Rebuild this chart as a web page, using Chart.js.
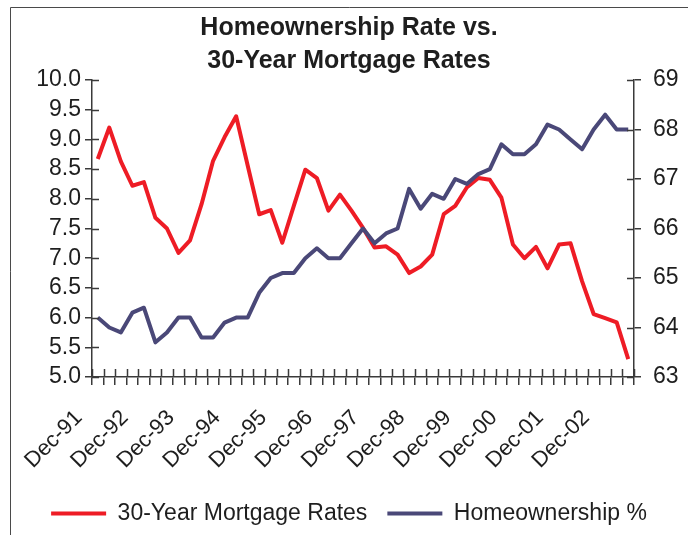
<!DOCTYPE html>
<html>
<head>
<meta charset="utf-8">
<title>Homeownership Rate vs. 30-Year Mortgage Rates</title>
<script src="https://cdn.jsdelivr.net/npm/chart.js@4/dist/chart.umd.min.js"></script>
<style>
  html, body { margin: 0; padding: 0; background: #ffffff; }
  #wrap { width: 688px; height: 535px; }
</style>
</head>
<body>
<div id="wrap"><canvas id="chart" width="688" height="535"></canvas></div>
<script>
// Quarterly periods, Dec-91 through Jun-03
const quarters = [
  'Dec-91', 'Mar-92', 'Jun-92', 'Sep-92', 'Dec-92', 'Mar-93', 'Jun-93', 'Sep-93',
  'Dec-93', 'Mar-94', 'Jun-94', 'Sep-94', 'Dec-94', 'Mar-95', 'Jun-95', 'Sep-95',
  'Dec-95', 'Mar-96', 'Jun-96', 'Sep-96', 'Dec-96', 'Mar-97', 'Jun-97', 'Sep-97',
  'Dec-97', 'Mar-98', 'Jun-98', 'Sep-98', 'Dec-98', 'Mar-99', 'Jun-99', 'Sep-99',
  'Dec-99', 'Mar-00', 'Jun-00', 'Sep-00', 'Dec-00', 'Mar-01', 'Jun-01', 'Sep-01',
  'Dec-01', 'Mar-02', 'Jun-02', 'Sep-02', 'Dec-02', 'Mar-03', 'Jun-03'
];

// 30-year fixed mortgage rate, percent (left axis)
const mortgageRates = [
  8.67, 9.20, 8.63, 8.22, 8.28, 7.68, 7.50, 7.09, 7.30, 7.91,
  8.64, 9.04, 9.39, 8.56, 7.74, 7.81, 7.26, 7.88, 8.49, 8.35,
  7.80, 8.07, 7.80, 7.51, 7.18, 7.20, 7.06, 6.75, 6.86, 7.06,
  7.74, 7.88, 8.19, 8.35, 8.32, 8.02, 7.23, 7.00, 7.19, 6.83,
  7.23, 7.25, 6.61, 6.06, 5.99, 5.92, 5.30
];

// Homeownership rate, percent (right axis)
const homeownership = [
  64.2, 64.0, 63.9, 64.3, 64.4, 63.7, 63.9, 64.2, 64.2, 63.8,
  63.8, 64.1, 64.2, 64.2, 64.7, 65.0, 65.1, 65.1, 65.4, 65.6,
  65.4, 65.4, 65.7, 66.0, 65.7, 65.9, 66.0, 66.8, 66.4, 66.7,
  66.6, 67.0, 66.9, 67.1, 67.2, 67.7, 67.5, 67.5, 67.7, 68.1,
  68.0, 67.8, 67.6, 68.0, 68.3, 68.0, 68.0
];

// Axis ranges
const rateAxis = { min: 5.0, max: 10.0, step: 0.5 };
const ownAxis = { min: 63, max: 69, step: 1 };

const FONT = "'Liberation Sans', Arial, Helvetica, sans-serif";
const INK = '#1e1e1e';
const AXIS = '#3a3a3a';
const RED = '#ee1c25';
const NAVY = '#4a4878';

// White page with the thin outer frame
const framePlugin = {
  id: 'frame',
  beforeDraw(chart) {
    const ctx = chart.ctx;
    ctx.save();
    ctx.fillStyle = '#ffffff';
    ctx.fillRect(0, 0, chart.width, chart.height);
    ctx.strokeStyle = '#4a4a4a';
    ctx.lineWidth = 1;
    ctx.beginPath();
    ctx.moveTo(10.5, chart.height);
    ctx.lineTo(10.5, 7.5);
    ctx.lineTo(chart.width, 7.5);
    ctx.stroke();
    ctx.restore();
  }
};

// Inner halves of the cross-style tick marks (outer halves come from the grid ticks)
const crossTicks = {
  id: 'crossTicks',
  afterDatasetsDraw(chart) {
    const ctx = chart.ctx;
    const x = chart.scales.x, yL = chart.scales.yRate, yR = chart.scales.yOwn;
    const area = chart.chartArea;
    ctx.save();
    ctx.strokeStyle = AXIS;
    ctx.lineWidth = 1.5;
    ctx.beginPath();
    const step = x.getPixelForValue(1) - x.getPixelForValue(0);
    for (let i = 0; i <= quarters.length; i++) {
      const px = Math.round(x.getPixelForValue(0) + (i - 0.5) * step) + 0.5;
      ctx.moveTo(px, area.bottom);
      ctx.lineTo(px, area.bottom - 8);
    }
    yL.ticks.forEach(t => {
      const py = Math.round(yL.getPixelForValue(t.value)) + 0.5;
      ctx.moveTo(area.left, py);
      ctx.lineTo(area.left + 7, py);
    });
    yR.ticks.forEach(t => {
      const py = Math.round(yR.getPixelForValue(t.value)) + 0.5;
      ctx.moveTo(area.right, py);
      ctx.lineTo(area.right - 7, py);
    });
    ctx.stroke();
    ctx.restore();
  }
};

new Chart(document.getElementById('chart'), {
  type: 'line',
  data: {
    labels: quarters,
    datasets: [
      {
        label: '30-Year Mortgage Rates',
        data: mortgageRates,
        yAxisID: 'yRate',
        borderColor: RED,
        backgroundColor: RED,
        borderWidth: 4,
        pointRadius: 0,
        tension: 0,
        borderJoinStyle: 'round',
        order: 2
      },
      {
        label: 'Homeownership %',
        data: homeownership,
        yAxisID: 'yOwn',
        borderColor: NAVY,
        backgroundColor: NAVY,
        borderWidth: 4,
        pointRadius: 0,
        tension: 0,
        borderJoinStyle: 'round',
        order: 1
      }
    ]
  },
  options: {
    responsive: false,
    animation: false,
    events: [],
    layout: { padding: { left: 10, right: 0, top: 0, bottom: 0 } },
    plugins: {
      tooltip: { enabled: false },
      title: {
        display: true,
        text: ['Homeownership Rate vs.', '30-Year Mortgage Rates'],
        color: INK,
        font: { family: FONT, size: 25, weight: 'bold', lineHeight: '33px' },
        padding: { top: 12, bottom: 2 }
      },
      legend: {
        display: true,
        position: 'bottom',
        labels: {
          color: INK,
          font: { family: FONT, size: 23 },
          usePointStyle: true,
          pointStyle: 'line',
          pointStyleWidth: 55,
          padding: 20,
          sort: (a, b) => a.datasetIndex - b.datasetIndex
        }
      }
    },
    scales: {
      x: {
        type: 'category',
        offset: true,
        grid: {
          display: true,
          offset: true,
          drawOnChartArea: false,
          drawTicks: true,
          tickLength: 8,
          color: AXIS,
          lineWidth: 1.5
        },
        border: { display: true, color: AXIS, width: 1.5 },
        ticks: {
          autoSkip: false,
          maxRotation: 45,
          minRotation: 45,
          color: INK,
          padding: 20,
          labelOffset: -19,
          font: { family: FONT, size: 22 },
          callback: function (value, index) {
            return index % 4 === 0 ? quarters[index] : '';
          }
        },
        afterFit: s => { s.height = 105; }
      },
      yRate: {
        type: 'linear',
        position: 'left',
        min: rateAxis.min,
        max: rateAxis.max,
        grid: {
          display: true,
          drawOnChartArea: false,
          drawTicks: true,
          tickLength: 7,
          color: AXIS,
          lineWidth: 1.5
        },
        border: { display: true, color: AXIS, width: 1.5 },
        ticks: {
          autoSkip: false,
          stepSize: rateAxis.step,
          color: INK,
          padding: 4,
          font: { family: FONT, size: 23 },
          callback: v => Number(v).toFixed(1)
        },
        afterFit: s => { s.width = 82; }
      },
      yOwn: {
        type: 'linear',
        position: 'right',
        min: ownAxis.min,
        max: ownAxis.max,
        grid: {
          display: true,
          drawOnChartArea: false,
          drawTicks: true,
          tickLength: 7,
          color: AXIS,
          lineWidth: 1.5
        },
        border: { display: true, color: AXIS, width: 1.5 },
        ticks: {
          autoSkip: false,
          stepSize: ownAxis.step,
          color: INK,
          padding: 12,
          font: { family: FONT, size: 23 },
          callback: v => String(v)
        },
        afterFit: s => { s.width = 54; }
      }
    }
  },
  plugins: [framePlugin, crossTicks]
});
</script>
</body>
</html>
